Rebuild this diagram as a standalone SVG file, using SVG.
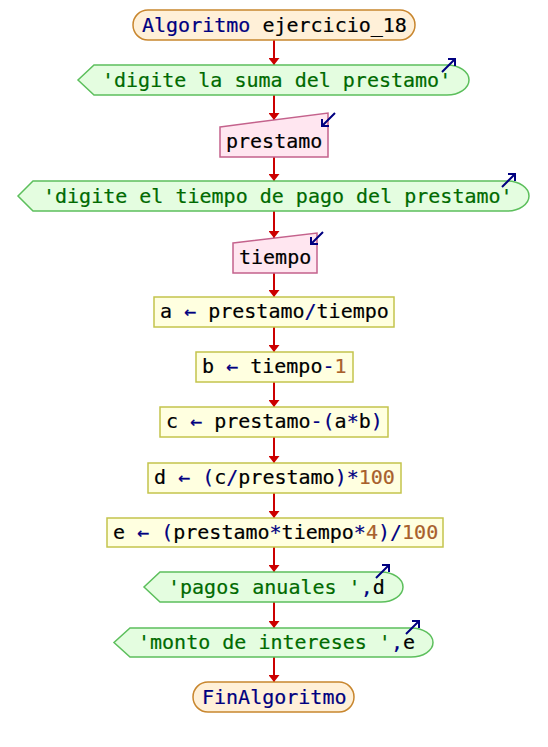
<svg xmlns="http://www.w3.org/2000/svg" width="548" height="747" viewBox="0 0 548 747">
  <defs>
    <style>
      text { font-family: "DejaVu Sans Mono", "Liberation Mono", monospace; font-size: 20px; white-space: pre; stroke-width: 0.2; }
      .term { fill: #fff0d8; stroke: #c8862e; stroke-width: 1.5; }
      .out { fill: #e4fde0; stroke: #5cbf5c; stroke-width: 1.5; }
      .inp { fill: #ffe6f0; stroke: #c4628c; stroke-width: 1.5; }
      .proc { fill: #ffffe0; stroke: #c4c44c; stroke-width: 1.5; }
      .kw { fill: #000080; stroke: #000080; }
      .id { fill: #000000; stroke: #000000; }
      .str { fill: #006a00; stroke: #006a00; }
      .num { fill: #a8602c; stroke: #a8602c; }
      .flow { stroke: #cc0000; stroke-width: 2; fill: none; }
      .icon { stroke: #000080; stroke-width: 2; fill: none; }
    </style>
    <marker id="head" markerWidth="7" markerHeight="11" refX="7" refY="5.5" orient="auto" markerUnits="userSpaceOnUse">
      <path d="M0,0 L7,5.5 L0,11 Z" fill="#cc0000"/>
    </marker>
  </defs>

  <rect width="548" height="747" fill="#ffffff"/>

  <!-- connectors -->
  <g id="connectors">
    <path class="flow" marker-end="url(#head)" d="M274,40 V65"/>
    <path class="flow" marker-end="url(#head)" d="M274,95 V120"/>
    <path class="flow" marker-end="url(#head)" d="M274,157 V181"/>
    <path class="flow" marker-end="url(#head)" d="M274,211 V238"/>
    <path class="flow" marker-end="url(#head)" d="M274,273 V297"/>
    <path class="flow" marker-end="url(#head)" d="M274,327 V352"/>
    <path class="flow" marker-end="url(#head)" d="M274,382 V407"/>
    <path class="flow" marker-end="url(#head)" d="M274,437 V463"/>
    <path class="flow" marker-end="url(#head)" d="M274,493 V518"/>
    <path class="flow" marker-end="url(#head)" d="M274,547 V572"/>
    <path class="flow" marker-end="url(#head)" d="M274,602 V628"/>
    <path class="flow" marker-end="url(#head)" d="M274,657 V682"/>
  </g>

  <!-- start -->
  <g id="inicio">
    <rect class="term" x="133" y="10" width="282" height="30" rx="15" ry="15"/>
    <text x="142" y="32" xml:space="preserve"><tspan class="kw">Algoritmo</tspan><tspan class="id"> ejercicio_18</tspan></text>
  </g>

  <!-- output: prompt for the loan amount -->
  <g id="escribir1">
    <path class="out" d="M94,65 L447,65 A22,15 0 0 1 447,95 L94,95 L78,80 Z"/>
    <text x="102" y="87" class="str" xml:space="preserve">'digite la suma del prestamo'</text>
    <path class="icon" d="M442,72 L455,59 M448,59 L455,59 L455,66"/>
  </g>

  <!-- input: loan amount -->
  <g id="leer1">
    <path class="inp" d="M220,127 L328,113 L328,157 L220,157 Z"/>
    <text x="226" y="148" class="id">prestamo</text>
    <path class="icon" d="M335,113 L322,126 M322,119 L322,126 L329,126"/>
  </g>

  <!-- output: prompt for the term -->
  <g id="escribir2">
    <path class="out" d="M33,181 L507,181 A22,15 0 0 1 507,211 L33,211 L18,196 Z"/>
    <text x="43" y="203" class="str" xml:space="preserve">'digite el tiempo de pago del prestamo'</text>
    <path class="icon" d="M502,187 L515,174 M508,174 L515,174 L515,181"/>
  </g>

  <!-- input: term -->
  <g id="leer2">
    <path class="inp" d="M233,243 L317,233 L317,273 L233,273 Z"/>
    <text x="239" y="264" class="id">tiempo</text>
    <path class="icon" d="M323,232 L311,244 M311,237 L311,244 L318,244"/>
  </g>

  <!-- assignments -->
  <g id="asignar_a">
    <rect class="proc" x="154" y="297" width="240" height="30"/>
    <text x="160" y="318" xml:space="preserve"><tspan class="id">a </tspan><tspan class="kw">←</tspan><tspan class="id"> prestamo</tspan><tspan class="kw">/</tspan><tspan class="id">tiempo</tspan></text>
  </g>

  <g id="asignar_b">
    <rect class="proc" x="196" y="352" width="157" height="30"/>
    <text x="202" y="373" xml:space="preserve"><tspan class="id">b </tspan><tspan class="kw">←</tspan><tspan class="id"> tiempo</tspan><tspan class="kw">-</tspan><tspan class="num">1</tspan></text>
  </g>

  <g id="asignar_c">
    <rect class="proc" x="160" y="407" width="228" height="30"/>
    <text x="166" y="428" xml:space="preserve"><tspan class="id">c </tspan><tspan class="kw">←</tspan><tspan class="id"> prestamo</tspan><tspan class="kw">-(</tspan><tspan class="id">a</tspan><tspan class="kw">*</tspan><tspan class="id">b</tspan><tspan class="kw">)</tspan></text>
  </g>

  <g id="asignar_d">
    <rect class="proc" x="148" y="463" width="253" height="30"/>
    <text x="154" y="484" xml:space="preserve"><tspan class="id">d </tspan><tspan class="kw">←</tspan><tspan class="kw"> (</tspan><tspan class="id">c</tspan><tspan class="kw">/</tspan><tspan class="id">prestamo</tspan><tspan class="kw">)*</tspan><tspan class="num">100</tspan></text>
  </g>

  <g id="asignar_e">
    <rect class="proc" x="107" y="518" width="336" height="29"/>
    <text x="113" y="539" xml:space="preserve"><tspan class="id">e </tspan><tspan class="kw">←</tspan><tspan class="kw"> (</tspan><tspan class="id">prestamo</tspan><tspan class="kw">*</tspan><tspan class="id">tiempo</tspan><tspan class="kw">*</tspan><tspan class="num">4</tspan><tspan class="kw">)/</tspan><tspan class="num">100</tspan></text>
  </g>

  <!-- output: yearly payments -->
  <g id="escribir3">
    <path class="out" d="M160,572 L381,572 A22,15 0 0 1 381,602 L160,602 L144,587 Z"/>
    <text x="168" y="594" xml:space="preserve"><tspan class="str">'pagos anuales '</tspan><tspan class="kw">,</tspan><tspan class="id">d</tspan></text>
    <path class="icon" d="M376,578 L389,565 M382,565 L389,565 L389,572"/>
  </g>

  <!-- output: interest amount -->
  <g id="escribir4">
    <path class="out" d="M130,628 L411,628 A22,14.5 0 0 1 411,657 L130,657 L114,642.5 Z"/>
    <text x="138" y="649" xml:space="preserve"><tspan class="str">'monto de intereses '</tspan><tspan class="kw">,</tspan><tspan class="id">e</tspan></text>
    <path class="icon" d="M406,634 L419,621 M412,621 L419,621 L419,628"/>
  </g>

  <!-- end -->
  <g id="fin">
    <rect class="term" x="193" y="682" width="161" height="30" rx="15" ry="15"/>
    <text x="202" y="704" class="kw">FinAlgoritmo</text>
  </g>
</svg>
